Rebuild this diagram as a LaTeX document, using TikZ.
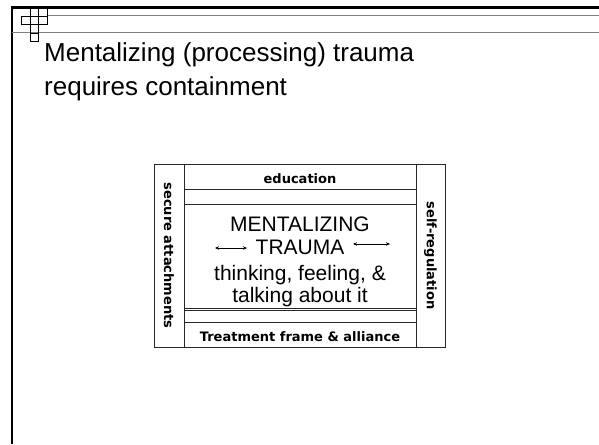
\documentclass[tikz,border=0pt]{standalone}
\usepackage{fontspec}
\setmainfont{Liberation Sans}
\newfontfamily\boxfont{DejaVu Sans}
\usetikzlibrary{arrows.meta}

\begin{document}
\begin{tikzpicture}[x=1pt, y=-1pt,
  cell/.style={draw=black!85, rectangle, inner sep=0pt, line width=0.8pt},
  lbl/.style={font=\boxfont\bfseries\fontsize{13}{15}\selectfont, inner sep=0pt},
  big/.style={font=\fontsize{21}{24}\selectfont, inner sep=0pt, anchor=base},
  heading/.style={anchor=base west, inner sep=0pt, font=\fontsize{26}{31}\selectfont},
  tick/.style={{Stealth[length=4pt,width=3.5pt]}-{Stealth[length=4pt,width=3.5pt]}, line width=0.6pt}]
  \useasboundingbox (0,0) rectangle (599,444);

  % Slide frame
  \draw[line width=2.5pt] (12,444) -- (12,7.5) -- (599,7.5);
  \draw[gray, line width=1pt] (47,16) -- (599,16);
  \draw[gray, line width=1pt] (12,33) -- (599,33);
  \foreach \x/\y in {30/7.5, 38.5/7.5, 21.5/16, 30/16, 38.5/16, 30/24.5, 30/33}
    \draw[line width=0.6pt] (\x,\y) rectangle ++(8.5,8.5);

  % Title
  \node[heading] (title1) at (44,62) {Mentalizing (processing) trauma};
  \node[heading] (title2) at (44,95) {requires containment};

  % Side columns
  \node[cell, lbl, rotate=-90, minimum width=183pt, minimum height=30pt] (secure) at (169,255.5) {secure attachments};
  \node[cell, lbl, rotate=-90, minimum width=183pt, minimum height=29pt] (selfreg) at (430.5,255.5) {self-regulation};

  % Middle cells
  \node[cell, minimum width=232pt, minimum height=25pt] (edu) at (300,176.5) {};
  \node[cell, minimum width=232pt, minimum height=15pt] (gaptop) at (300,196.5) {};
  \node[cell, minimum width=232pt, minimum height=104pt] (core) at (300,256) {};
  \node[cell, minimum width=232pt, minimum height=12pt] (gapbot) at (300,316) {};
  \node[cell, minimum width=232pt, minimum height=25pt] (treat) at (300,334.5) {};

  % Labels
  \node[lbl, anchor=base] (edutext) at (300,183) {education};
  \node[lbl, anchor=base] (treattext) at (300,341) {Treatment frame \& alliance};

  % Mentalizing trauma
  \node[big] (ment) at (300,231) {MENTALIZING};
  \node[big] (trauma) at (300,254) {TRAUMA};
  \node[big] (think) at (300,280) {thinking, feeling, \&};
  \node[big] (talk) at (300,302) {talking about it};

  \coordinate (la) at (215,248);
  \coordinate (lb) at (247,248);
  \coordinate (ra) at (353,244);
  \coordinate (rb) at (390,244);
  \draw[tick] (la) -- (lb);
  \draw[tick] (ra) -- (rb);
\end{tikzpicture}
\end{document}
